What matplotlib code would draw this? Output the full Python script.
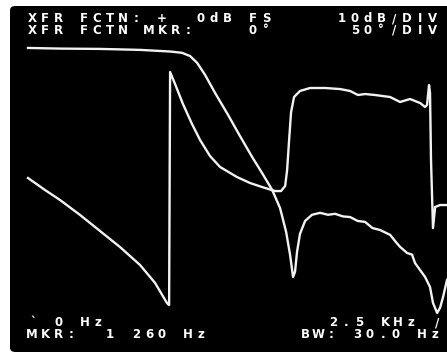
import matplotlib
matplotlib.use("Agg")
import matplotlib.pyplot as plt
from matplotlib.patches import FancyBboxPatch

W, H = 447, 357

# transfer function magnitude (Hz, dB)
mag_f = [0, 194, 437, 680, 862, 934, 983, 1026, 1074, 1135, 1214, 1286, 1359, 1420,
         1481, 1529, 1566, 1590, 1608, 1620, 1632, 1650, 1681, 1723, 1772, 1820, 1863,
         1910, 1954, 2000, 2045, 2090, 2136, 2197, 2230, 2257, 2300, 2330, 2348, 2409,
         2439, 2457, 2482, 2500, 2518, 2542]
mag_db = [0, -0.2, -0.3, -0.6, -1.1, -1.5, -2.5, -4.6, -8.3, -13.9, -20.7, -27.2, -33.6, -38.6,
          -43.8, -49.4, -56.8, -63.9, -70.7, -69.1, -63.0, -57.4, -53.4, -51.5, -50.9, -51.5, -51.2,
          -52.0, -52.2, -53.4, -53.7, -55.6, -56.2, -57.7, -59.8, -61.4, -63.3, -63.8, -66.4, -70.7,
          -73.8, -78.7, -81.8, -80.2, -76.9, -71.6]

# transfer function phase (Hz, degrees)
ph_f = [0, 103, 194, 316, 437, 558, 680, 771, 843, 856, 862, 892, 940, 995, 1044, 1104,
        1165, 1268, 1347, 1420, 1499, 1535, 1560, 1572, 1584, 1596, 1614, 1650, 1711, 1802,
        1893, 1954, 2002, 2045, 2105, 2197, 2257, 2318, 2379, 2409, 2421, 2433, 2439, 2445,
        2457, 2470, 2500, 2542]
ph_deg = [16.2, -2.3, -17.7, -40.9, -65.6, -90.3, -118.1, -145.8, -176.7, -179.8, 179.8, 161.3,
          130.4, 99.5, 74.8, 50.2, 33.2, 17.7, 8.5, 2.3, -3.9, -3.9, 3.9, 28.5, 74.8, 117.9,
          141.2, 150.5, 155.1, 155.1, 153.5, 150.5, 144.3, 145.8, 144.3, 141.2, 133.5, 138.1,
          131.9, 125.8, 128.9, 159.7, 147.4, 44.0, -61.0, -28.5, -25.5, -25.5]

top_left = ["XFR FCTN: +  0dB FS", "XFR FCTN MKR:    0°"]
top_right = ["10dB/DIV", "50°/DIV"]
bot_left = ["` 0 Hz", "MKR:  1 260 Hz"]
bot_right = ["2.5 KHz /", "BW: 30.0 Hz"]

fig = plt.figure(figsize=(W / 100, H / 100), dpi=100)
fig.patch.set_facecolor("white")

# CRT screen, kept behind the traces
screen = FancyBboxPatch((10 / W, 5 / H), 1.2, 346 / H, boxstyle="round,pad=0,rounding_size=0.012",
                        transform=fig.transFigure, facecolor="black", edgecolor="none", zorder=-5)
fig.patches.append(screen)

ax = fig.add_axes([0, 0, 1, 1])
ax.patch.set_alpha(0)
ax.set_xlim(-170, 2542)
ax.set_ylim(-95.4, 14.8)
ax.axis("off")
ax.plot(mag_f, mag_db, color="#f2f2f2", lw=1.7, solid_joinstyle="round")

ax2 = ax.twinx()
ax2.set_ylim(-260.0, 290.9)
ax2.axis("off")
ax2.plot(ph_f, ph_deg, color="#f2f2f2", lw=1.7, solid_joinstyle="round")

PITCH = 13


def crt_text(s, x, y):
    # fixed-pitch character cells, like the analyzer's display
    for i, ch in enumerate(s):
        if ch == " ":
            continue
        fig.text((x + 5 + i * PITCH) / W, 1 - y / H, ch, ha="center", va="center",
                 family="DejaVu Sans", fontweight="bold", fontsize=8.5, color="white")


crt_text(top_left[0], 27, 19)
crt_text(top_left[1], 27, 30)
crt_text(top_right[0], 337, 19)
crt_text(top_right[1], 350, 30)
crt_text(bot_left[0], 28, 323)
crt_text(bot_left[1], 27, 334)
crt_text(bot_right[0], 328, 323)
crt_text(bot_right[1], 300, 334)

fig.savefig("out.png", dpi=100, facecolor="white")
